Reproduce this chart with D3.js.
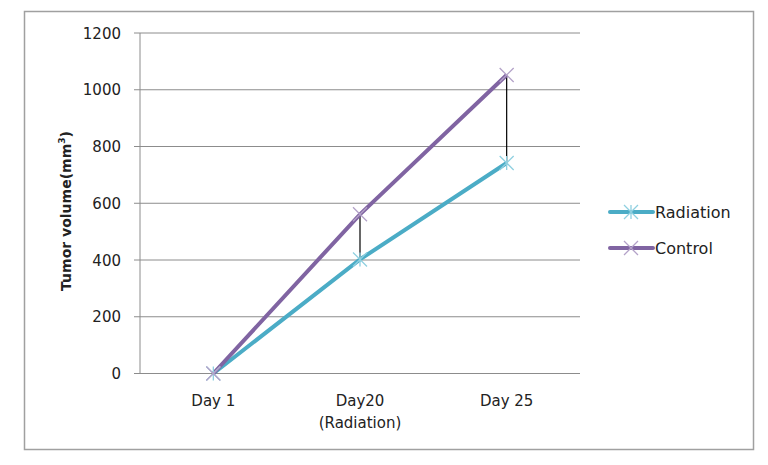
<!DOCTYPE html>
<html lang="en">
<head>
  <meta charset="UTF-8">
  <title>Tumor volume</title>
  <script src="https://d3js.org/d3.v7.min.js"></script>
  <style>
    body { margin: 0; background: #fff; }
    text { font-family: "DejaVu Sans", Verdana, sans-serif; fill: #222; }
  </style>
</head>
<body>
<div class="canvas"></div>
<script>
  // data
  const categories = ["Day 1", "Day20\n(Radiation)", "Day 25"];
  const radiation = [0, 402, 742];
  const control = [0, 561, 1052];
  const yTicks = [0, 200, 400, 600, 800, 1000, 1200];

  const series = [
    { name: "Radiation", values: radiation, color: "#4bacc6", marker: "#8fd0e0", star: true },
    { name: "Control", values: control, color: "#8064a2", marker: "#b3a2c8", star: false }
  ];

  const W = 768, H = 465;
  const svg = d3.select('.canvas').append('svg')
    .attr('width', W).attr('height', H);

  // outer frame
  svg.append('rect')
    .attr('x', 24.5).attr('y', 11.5)
    .attr('width', 729).attr('height', 438)
    .attr('fill', 'none').attr('stroke', '#a0a0a0').attr('stroke-width', 1.5);

  const x = d3.scaleBand().domain(categories).range([140, 580]);
  const y = d3.scaleLinear().domain([0, 1200]).range([373.5, 33]);
  const cx = d => x(d) + x.bandwidth() / 2;

  // gridlines
  svg.append('g').selectAll('line').data(yTicks).enter().append('line')
    .attr('x1', 134).attr('x2', 580)
    .attr('y1', d => y(d)).attr('y2', d => y(d))
    .attr('stroke', '#8c8c8c').attr('stroke-width', 1);

  // y axis line
  svg.append('line')
    .attr('x1', 140).attr('x2', 140).attr('y1', y(1200)).attr('y2', y(0))
    .attr('stroke', '#8c8c8c');

  svg.append('g').selectAll('text').data(yTicks).enter().append('text')
    .attr('x', 121).attr('y', d => y(d) + 5.5)
    .attr('text-anchor', 'end')
    .attr('font-size', 15)
    .text(d => d);

  // x labels
  const xl = svg.append('g').selectAll('text').data(categories).enter().append('text')
    .attr('x', d => cx(d)).attr('y', 406)
    .attr('text-anchor', 'middle')
    .attr('font-size', 15);
  xl.selectAll('tspan').data(d => d.split('\n')).enter().append('tspan')
    .attr('x', function () { return d3.select(this.parentNode).attr('x'); })
    .attr('dy', (d, i) => i ? 22 : 0)
    .text(d => d);

  // axis title
  const title = svg.append('text')
    .attr('transform', 'translate(71,211) rotate(-90)')
    .attr('text-anchor', 'middle')
    .attr('font-size', 14).attr('font-weight', 'bold');
  title.append('tspan').text('Tumor volume(mm');
  title.append('tspan').attr('font-size', 9).attr('dy', -6).text('3');
  title.append('tspan').attr('dy', 6).text(')');

  // high-low lines
  svg.append('g').selectAll('line').data(categories).enter().append('line')
    .attr('x1', d => cx(d)).attr('x2', d => cx(d))
    .attr('y1', (d, i) => y(control[i])).attr('y2', (d, i) => y(radiation[i]))
    .attr('stroke', '#000').attr('stroke-width', 1.2);

  const line = d3.line().x((d, i) => cx(categories[i])).y(d => y(d));

  function drawMarker(g, px, py, s) {
    const r = 7;
    g.append('path')
      .attr('d', `M${px - r},${py - r}L${px + r},${py + r}M${px - r},${py + r}L${px + r},${py - r}` +
        (s.star ? `M${px},${py - r}L${px},${py + r}` : ''))
      .attr('stroke', s.marker).attr('stroke-width', 1.3).attr('fill', 'none');
  }

  series.forEach(s => {
    svg.append('path').datum(s.values)
      .attr('d', line)
      .attr('fill', 'none').attr('stroke', s.color).attr('stroke-width', 4);
  });
  series.forEach(s => {
    const g = svg.append('g');
    s.values.forEach((v, i) => drawMarker(g, cx(categories[i]), y(v), s));
  });

  // legend
  const leg = svg.append('g').selectAll('g').data(series).enter().append('g')
    .attr('transform', (d, i) => `translate(0,${212 + i * 36})`);
  leg.append('line')
    .attr('x1', 610).attr('x2', 653).attr('y1', 0).attr('y2', 0)
    .attr('stroke', d => d.color).attr('stroke-width', 4).attr('stroke-linecap', 'round');
  leg.each(function (d) { drawMarker(d3.select(this), 631, 0, d); });
  leg.append('text')
    .attr('x', 655).attr('y', 6)
    .attr('font-size', 16)
    .text(d => d.name);
</script>
</body>
</html>
